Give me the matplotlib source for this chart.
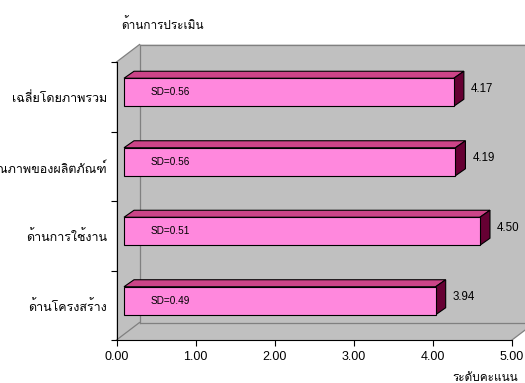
import matplotlib
matplotlib.use("Agg")
import matplotlib.pyplot as plt
from matplotlib.patches import Polygon

plt.rcParams['font.family'] = ['Liberation Sans', 'Loma']

# data (bottom to top)
categories = ["ด้านโครงสร้าง", "ด้านการใช้งาน", "ด้านคุณภาพของผลิตภัณฑ์", "เฉลี่ยโดยภาพรวม"]
scores = [3.94, 4.50, 4.19, 4.17]
sd_values = [0.49, 0.51, 0.56, 0.56]
x_ticks = [0, 1, 2, 3, 4, 5]

# 3d look, in data units (px / px-per-unit)
DX, DY = 23 / 79, 17.5 / 69.5        # depth of the whole box
FDX, FDY = 7.5 / 79, 4.5 / 69.5      # front face of bars offset
BDX, BDY = 10 / 79, 7 / 69.5         # bar depth
BAR_H = 28 / 69.5

wall = "#c0c0c0"
edge = "#808080"
front = "#ff88dd"
top = "#cc4488"
side = "#660033"

fig = plt.figure(figsize=(5.25, 3.83), dpi=100)
ax = fig.add_axes([116.5 / 525, 43 / 383, 395.5 / 525, 278 / 383])
ax.set_xlim(0, 5)
ax.set_ylim(-0.5, 3.5)
ax.patch.set_visible(False)

# walls and floor
x0, x1, y0, y1 = 0, 5, -0.5, 3.5
box = Polygon([(x0, y0), (x1, y0), (x1 + DX, y0 + DY), (x1 + DX, y1 + DY),
               (x0 + DX, y1 + DY), (x0, y1)], closed=True,
              facecolor=wall, edgecolor="none", clip_on=False, zorder=0)
ax.add_patch(box)
for xs, ys in [([x0, x0 + DX], [y1, y1 + DY]),
               ([x0 + DX, x0 + DX], [y1 + DY, y0 + DY]),
               ([x0 + DX, x1 + DX], [y0 + DY, y0 + DY]),
               ([x0 + DX, x1 + DX], [y1 + DY, y1 + DY]),
               ([x0, x0 + DX], [y0, y0 + DY]),
               ([x1, x1 + DX], [y0, y0 + DY])]:
    ax.plot(xs, ys, color=edge, lw=0.9, clip_on=False, zorder=1)

# bars
pos = list(range(len(categories)))
bar_y = [p + FDY for p in pos]
ax.barh(bar_y, scores, left=FDX, height=BAR_H, color=front,
        edgecolor="black", linewidth=0.8, zorder=3, clip_on=False)
for y, v, sd in zip(bar_y, scores, sd_values):
    xl, xr = FDX, FDX + v
    yb, yt = y - BAR_H / 2, y + BAR_H / 2
    ax.add_patch(Polygon([(xl, yt), (xr, yt), (xr + BDX, yt + BDY), (xl + BDX, yt + BDY)],
                         facecolor=top, edgecolor="black", lw=0.8, zorder=2, clip_on=False))
    ax.add_patch(Polygon([(xr, yb), (xr, yt), (xr + BDX, yt + BDY), (xr + BDX, yb + BDY)],
                         facecolor=side, edgecolor="black", lw=0.8, zorder=2, clip_on=False))
    ax.text(xl + 0.33, y, f"SD={sd:.2f}", fontsize=7.2, va="center", ha="left", zorder=4)
    ax.text(xr + BDX + 0.09, y + BDY / 2, f"{v:.2f}", fontsize=8.3, va="center",
            ha="left", zorder=4, clip_on=False)

# axes
for s in ["top", "right"]:
    ax.spines[s].set_visible(False)
ax.spines["left"].set_color("black")
ax.spines["bottom"].set_color("black")
ax.spines["left"].set_zorder(5)
ax.spines["bottom"].set_zorder(5)

ax.set_xticks(x_ticks)
ax.set_xticklabels([f"{t:.2f}" for t in x_ticks], fontsize=9)
ax.tick_params(axis="x", length=4, width=0.8, pad=4)

ax.set_yticks([p - 0.5 for p in pos] + [len(pos) - 0.5])
ax.set_yticklabels([])
ax.tick_params(axis="y", which="major", length=4, width=0.8)
ax.set_yticks(pos, minor=True)
ax.set_yticklabels(categories, minor=True, fontsize=9)
ax.tick_params(axis="y", which="minor", length=0, pad=7)

fig.text(121 / 525, 1 - 25 / 383, "ด้านการประเมิน", fontsize=8.5, ha="left", va="center")
fig.text(452 / 525, 1 - 378 / 383, "ระดับคะแนน", fontsize=8.5, ha="left", va="center")

fig.savefig("out.png", dpi=100)
